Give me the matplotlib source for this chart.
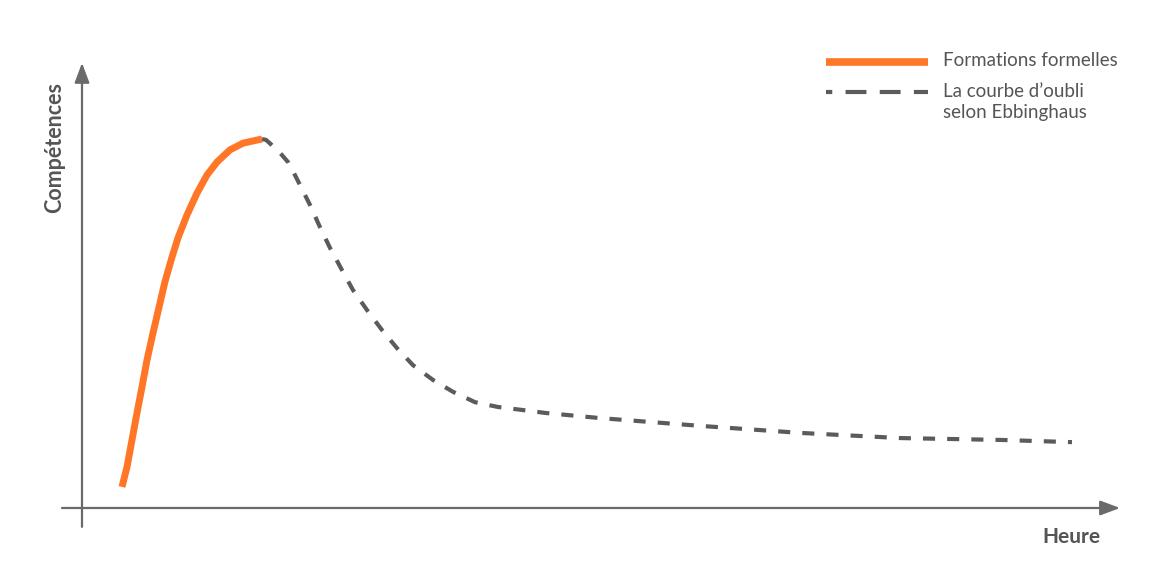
import matplotlib.pyplot as plt

# Formations formelles (orange rising curve)
learn_t = [4.0, 4.5, 5.0, 5.5, 6.0, 6.5, 7.1, 7.8, 8.3, 9.0, 9.6, 10.5,
           11.5, 12.5, 13.5, 14.8, 16.1, 17.6, 18.0]
learn_y = [5.7, 11.1, 18.4, 25.7, 32.7, 40.0, 47.3, 55.4, 61.2, 67.8, 73.0, 79.2,
           85.1, 90.0, 93.5, 96.8, 98.6, 99.5, 99.7]

# Courbe d'oubli d'Ebbinghaus (dashed)
forget_t = [18.0, 18.4, 19.1, 19.8, 20.6, 21.2, 21.8, 22.8, 23.8, 24.8, 26.0, 27.1,
            28.5, 30.0, 31.5, 33.1, 35.1, 37.1, 39.3, 41.6, 44.0, 46.3, 51.8, 61.8,
            71.8, 81.8, 91.8, 99.0]
forget_y = [99.7, 99.5, 97.8, 96.0, 93.5, 90.5, 87.3, 81.9, 75.9, 70.3, 64.3, 58.9,
            53.5, 48.1, 43.2, 38.6, 34.6, 31.4, 28.6, 27.3, 26.5, 25.7, 24.3, 22.2,
            20.3, 18.9, 18.4, 17.8]

labels = ["Formations formelles", "La courbe d\u2019oubli\nselon Ebbinghaus"]

ORANGE = "#ff7626"
DARK = "#5b5b5b"
AXIS = "#6a6a6a"
TEXT = "#555555"

plt.rcParams['font.family'] = ['Lato', 'DejaVu Sans']

fig = plt.figure(figsize=(11.6, 5.7), dpi=100)
ax = fig.add_axes([0, 0, 1, 1])
ax.set_xlim(-8.2, 107.8)
ax.set_ylim(-16.76, 137.3)
ax.axis('off')

# axes with arrows
ax.annotate('', xy=(103.8, 0), xytext=(-2, 0),
            arrowprops=dict(arrowstyle='-|>,head_length=1.2,head_width=0.45',
                            color=AXIS, lw=1.6, shrinkA=0, shrinkB=0))
ax.annotate('', xy=(0, 120.3), xytext=(0, -5.1),
            arrowprops=dict(arrowstyle='-|>,head_length=1.2,head_width=0.45',
                            color=AXIS, lw=1.6, shrinkA=0, shrinkB=0))

ax.plot(forget_t, forget_y, color=DARK, lw=3, dashes=(2.9, 2.9),
        solid_capstyle='butt', dash_capstyle='butt', dash_joinstyle='round')
ax.plot(learn_t, learn_y, color=ORANGE, lw=5, solid_capstyle='butt',
        solid_joinstyle='round')

ax.text(0.047, 0.742, "Compétences", transform=ax.transAxes, rotation=90,
        ha='center', va='center', fontsize=15.5, color=TEXT, fontweight='bold')
ax.text(0.924, 0.058, "Heure", transform=ax.transAxes, ha='center', va='center',
        fontsize=15, color=TEXT, fontweight='bold')

# manual legend
ax.plot([0.712, 0.800], [0.891, 0.891], transform=ax.transAxes, color=ORANGE,
        lw=5.5, solid_capstyle='butt')
ax.plot([0.712, 0.800], [0.839, 0.839], transform=ax.transAxes, color=DARK,
        lw=3, dashes=(1.5, 3.2, 5, 3.2, 5, 3.2, 5, 3.2), solid_capstyle='butt',
        dash_capstyle='butt')
ax.text(0.813, 0.893, labels[0], transform=ax.transAxes, ha='left', va='center',
        fontsize=13.5, color=TEXT)
ax.text(0.813, 0.855, labels[1], transform=ax.transAxes, ha='left', va='top',
        fontsize=13.5, color=TEXT, linespacing=1.3)

fig.savefig('out.png', dpi=100)
